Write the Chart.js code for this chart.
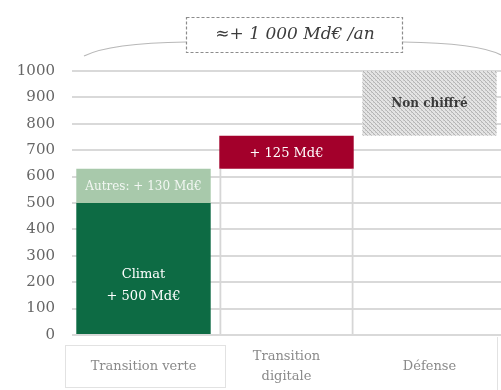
<!DOCTYPE html>
<html>
<head>
<meta charset="utf-8">
<script src="https://cdn.jsdelivr.net/npm/chart.js@4"></script>
<style>
  html, body { margin: 0; padding: 0; background: #ffffff; }
  #wrap { width: 501px; height: 390px; position: relative; }
</style>
</head>
<body>
<div id="wrap"><canvas id="c" width="501" height="390"></canvas></div>
<script>
// Besoins d'investissement supplémentaires (Md€ par an)
const categories = [["Transition verte"], ["Transition", "digitale"], ["Défense"]];
const climat = 500;        // Transition verte : climat
const autres = 130;        // Transition verte : autres
const digital = 125;       // Transition digitale
const totalTarget = 1000;  // ordre de grandeur global
const yTicks = [0, 100, 200, 300, 400, 500, 600, 700, 800, 900, 1000];
const headline = "≈+ 1 000 Md€ /an";

// cumulative steps of the waterfall
const vertTop = climat + autres;
const digitalTop = vertTop + digital;

const SERIF = "'DejaVu Serif', 'Liberation Serif', serif";

// fine grey hatching for the unquantified column
function hatchPattern() {
  const p = document.createElement('canvas');
  p.width = 4; p.height = 4;
  const g = p.getContext('2d');
  g.fillStyle = '#e4e4e4';
  g.fillRect(0, 0, 4, 4);
  g.fillStyle = '#b5b5b5';
  g.fillRect(0, 0, 1, 1);
  g.fillRect(1, 1, 1, 1);
  g.fillRect(2, 2, 1, 1);
  g.fillRect(3, 3, 1, 1);
  g.fillStyle = '#cccccc';
  g.fillRect(3, 0, 1, 1);
  g.fillRect(1, 2, 1, 1);
  return g.createPattern(p, 'repeat');
}

const ctx = document.getElementById('c').getContext('2d');

// labels written inside the bars
const barLabels = {
  id: 'barLabels',
  afterDatasetsDraw(chart) {
    const c = chart.ctx;
    const metaOf = i => chart.getDatasetMeta(i).data;
    c.save();
    c.textAlign = 'center';
    c.textBaseline = 'middle';
    c.fillStyle = '#ffffff';

    // Climat
    const b1 = metaOf(1)[0];
    c.font = '13px ' + SERIF;
    const cy = (b1.y + b1.base) / 2 + 17;
    c.fillText('Climat', b1.x, cy - 11);
    c.fillText('+ 500 Md€', b1.x, cy + 11);

    // Autres (clipped to its bar)
    const b2 = metaOf(2)[0];
    const half = b2.width / 2;
    c.save();
    c.beginPath();
    c.rect(b2.x - half, b2.y, b2.width, b2.base - b2.y);
    c.clip();
    c.font = '12px ' + SERIF;
    c.fillStyle = 'rgba(255,255,255,0.85)';
    c.textAlign = 'left';
    c.fillText('Autres: + 130 Md€', b2.x - half + 9, (b2.y + b2.base) / 2 + 1);
    c.restore();

    // Digital
    const b3 = metaOf(3)[1];
    c.font = '13px ' + SERIF;
    c.fillText('+ 125 Md€', b3.x, (b3.y + b3.base) / 2 + 1);

    // Défense
    const b4 = metaOf(4)[2];
    c.font = 'bold 12px ' + SERIF;
    c.fillStyle = '#3a3a3a';
    c.fillText('Non chiffré', b4.x, (b4.y + b4.base) / 2 + 1);
    c.restore();
  }
};

// category names under the columns, each vertically centred
const categoryLabels = {
  id: 'categoryLabels',
  afterDraw(chart) {
    const c = chart.ctx;
    const xs = chart.scales.x;
    const area = chart.chartArea;
    c.save();
    // frames around the category names
    c.strokeStyle = '#e2e2e2';
    c.lineWidth = 1;
    c.strokeRect(65.5, 345.5, 160, 42);
    c.beginPath();
    c.moveTo(497.5, area.bottom + 2);
    c.lineTo(497.5, 390);
    c.stroke();

    c.font = '13px ' + SERIF;
    c.fillStyle = '#8a8a8a';
    c.textAlign = 'center';
    c.textBaseline = 'middle';
    const mid = 367;
    categories.forEach((lines, i) => {
      const x = xs.getPixelForTick(i);
      const lh = 20;
      const start = mid - (lines.length - 1) * lh / 2;
      lines.forEach((t, k) => c.fillText(t, x, start + k * lh));
    });
    c.restore();
  }
};

// brace and dashed box summarising the total
const headlineBox = {
  id: 'headlineBox',
  afterDraw(chart) {
    const c = chart.ctx;
    c.save();
    c.strokeStyle = '#b8b8b8';
    c.lineWidth = 1.2;
    c.beginPath();
    c.moveTo(84, 56);
    c.quadraticCurveTo(110, 43, 186, 42);
    c.stroke();
    c.beginPath();
    c.moveTo(403, 42);
    c.quadraticCurveTo(478, 43, 501, 55);
    c.stroke();

    c.setLineDash([3, 2]);
    c.strokeStyle = '#8c8c8c';
    c.lineWidth = 1.2;
    c.strokeRect(186.5, 17.5, 216, 35);
    c.setLineDash([]);

    c.font = 'italic 17px ' + SERIF;
    c.fillStyle = '#3c3c3c';
    c.textAlign = 'center';
    c.textBaseline = 'middle';
    c.fillText(headline, 295, 35);
    c.restore();
  }
};

new Chart(ctx, {
  type: 'bar',
  data: {
    labels: categories.map(l => l.join(' ')),
    datasets: [
      {
        // outline of the invisible base under the digital step
        label: 'base',
        data: [null, [0, vertTop], null],
        backgroundColor: 'rgba(0,0,0,0)',
        borderColor: '#d6d6d6',
        borderWidth: { left: 2, right: 2, top: 0, bottom: 0 },
        borderSkipped: false
      },
      {
        label: 'Climat',
        data: [[0, climat], null, null],
        backgroundColor: '#0d6b44',
        borderWidth: 0
      },
      {
        label: 'Autres',
        data: [[climat, vertTop], null, null],
        backgroundColor: '#a8c9ab',
        borderWidth: 0
      },
      {
        label: 'Transition digitale',
        data: [null, [vertTop, digitalTop], null],
        backgroundColor: '#a3002b',
        borderWidth: 0
      },
      {
        label: 'Défense',
        data: [null, null, [digitalTop, totalTarget]],
        backgroundColor: hatchPattern(),
        borderWidth: 0
      }
    ]
  },
  options: {
    responsive: false,
    animation: false,
    devicePixelRatio: 1,
    layout: { padding: { top: 71, right: 0, bottom: 0, left: 0 } },
    plugins: {
      legend: { display: false },
      tooltip: { enabled: false }
    },
    datasets: {
      bar: { barPercentage: 0.94, categoryPercentage: 1, grouped: false }
    },
    scales: {
      x: {
        stacked: true,
        grid: { display: false },
        border: { display: false },
        ticks: { display: false },
        afterFit(scale) { scale.height = 55; }
      },
      y: {
        min: 0,
        max: 1000,
        afterBuildTicks(scale) { scale.ticks = yTicks.map(v => ({ value: v })); },
        afterFit(scale) { scale.width = 72; },
        grid: { color: '#d9d9d9', lineWidth: 2, drawTicks: false },
        border: { display: false },
        ticks: {
          padding: 17,
          color: '#666666',
          font: { family: SERIF, size: 15 },
          callback: v => String(v)
        }
      }
    }
  },
  plugins: [barLabels, categoryLabels, headlineBox]
});
</script>
</body>
</html>
